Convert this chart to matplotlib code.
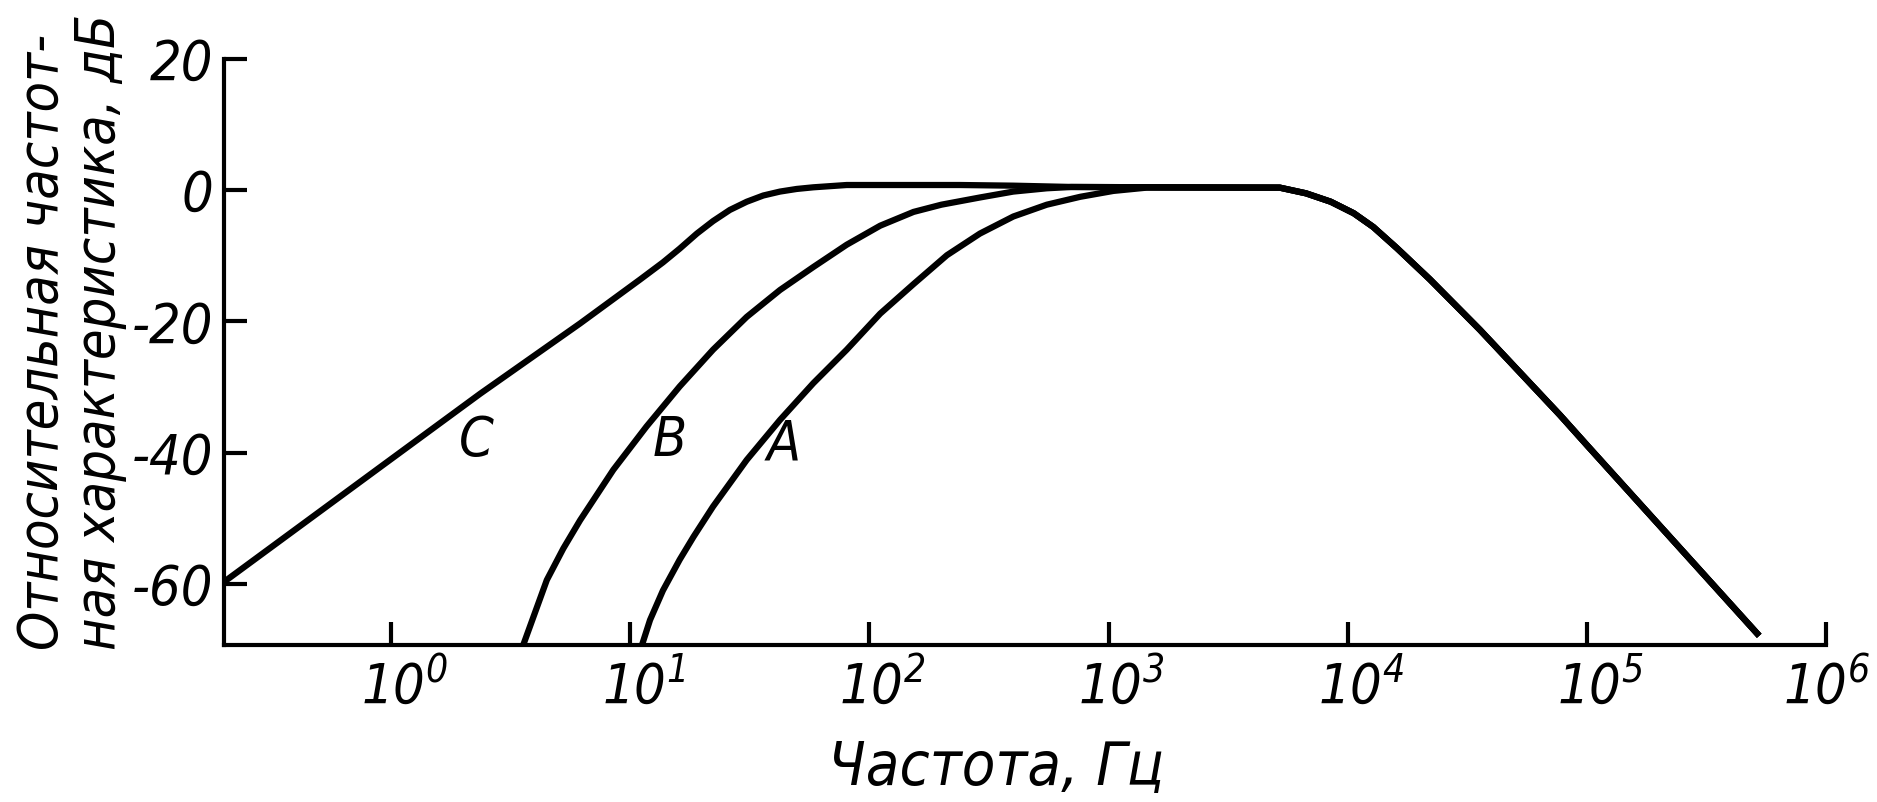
import matplotlib
matplotlib.use("Agg")
import matplotlib.pyplot as plt
import matplotlib.transforms as mtransforms
from matplotlib.ticker import NullLocator

# values (frequency in Hz, level in dB)
c_freq = [0.2, 0.9, 2.36, 6.17, 11.0, 13.7, 16.1, 19.0, 22.2, 26.1, 30.7, 36.0, 42.3, 49.7, 58.3, 80.4, 134, 239, 400, 700]
c_db = [-59.7, -42.2, -31.0, -20.3, -13.6, -11.0, -8.9, -6.6, -4.7, -3.0, -1.75, -0.8, -0.2, 0.2, 0.45, 0.8, 0.8, 0.8, 0.7, 0.5]

b_freq = [3.57, 3.94, 4.48, 5.25, 6.17, 8.5, 11.7, 16.1, 22.2, 30.7, 42.3, 58.3, 80.4, 111, 153, 200, 290, 400, 552, 700]
b_db = [-69.3, -65.0, -59.4, -54.6, -50.3, -42.6, -36.0, -29.9, -24.3, -19.3, -15.2, -11.7, -8.3, -5.4, -3.3, -2.2, -1.1, -0.2, 0.3, 0.5]

a_freq = [11.2, 12.1, 13.7, 16.1, 18.4, 22.2, 30.7, 42.3, 58.3, 80.4, 111, 153, 211, 290, 400, 552, 761, 1048, 1445]
a_db = [-69.3, -65.5, -61.0, -56.3, -52.8, -48.2, -41.1, -35.0, -29.4, -24.3, -18.8, -14.3, -9.9, -6.6, -4.0, -2.2, -1.0, -0.1, 0.4]

# high-frequency roll-off shared by all three curves
hf_freq = [5200, 6700, 8500, 10600, 12800, 16100, 22100, 35800, 77400, 101000, 526000]
hf_db = [0.4, -0.47, -1.75, -3.5, -5.6, -8.85, -13.6, -21.3, -34.3, -39.0, -67.9]

curve_names = ["C", "B", "A"]
label_freq = [2.28, 14.7, 43.7]
label_db = [-38.1, -38.1, -38.6]

xticks = [1, 10, 100, 1e3, 1e4, 1e5, 1e6]
xtick_labels = [r"$10^{0}$", r"$10^{1}$", r"$10^{2}$", r"$10^{3}$", r"$10^{4}$", r"$10^{5}$", r"$10^{6}$"]
yticks = [20, 0, -20, -40, -60]

FONT = dict(family="DejaVu Sans", style="italic", stretch="condensed")
plt.rcParams["mathtext.fontset"] = "custom"
plt.rcParams["mathtext.rm"] = "DejaVu Sans:style=italic:stretch=condensed"
plt.rcParams["mathtext.it"] = "DejaVu Sans:style=italic:stretch=condensed"
FS = 40

fig = plt.figure(figsize=(18.77, 8.02), dpi=100)
ax = fig.add_axes([0.1193, 0.1958, 0.8535, 0.7306])

curves = [(c_freq, c_db), (b_freq, b_db), (a_freq, a_db)]
for freq, db in curves:
    ax.plot(list(freq) + hf_freq, list(db) + hf_db, color="black", lw=4.5,
            solid_capstyle="butt", solid_joinstyle="round")

for name, fx, fy in zip(curve_names, label_freq, label_db):
    ax.text(fx, fy, name, ha="center", va="center", fontsize=FS, **FONT)

ax.set_xscale("log")
ax.set_xlim(0.2, 1e6)
ax.set_ylim(-69.3, 20)
ax.set_xticks(xticks)
ax.set_xticklabels(xtick_labels)
ax.xaxis.set_minor_locator(NullLocator())
ax.set_yticks(yticks)
ax.set_yticklabels([str(v) for v in yticks])

for side in ["top", "right"]:
    ax.spines[side].set_visible(False)
for side in ["left", "bottom"]:
    ax.spines[side].set_linewidth(3.0)

ax.tick_params(axis="both", direction="in", length=16.5, width=3.0, labelsize=FS)
ax.tick_params(axis="x", pad=10)
ax.tick_params(axis="y", pad=8)
for lab in ax.get_yticklabels():
    lab.set_fontstyle("italic")
    lab.set_fontstretch("condensed")

# the "10" sits on the tick, the exponent hangs to the right
shift = mtransforms.ScaledTranslation(0.13, 0, fig.dpi_scale_trans)
for lab in ax.get_xticklabels()[:-1]:
    lab.set_transform(lab.get_transform() + shift)

fig.text(996 / 1877, 1 - 785 / 802, "Частота, Гц", ha="center", va="baseline",
         fontsize=44, **FONT)
fig.text(71 / 1877, 1 - 332 / 802, "Относительная частот-\nная характеристика, дБ",
         rotation=90, ha="center", va="center", multialignment="left",
         linespacing=1.1, fontsize=FS, **FONT)

fig.savefig("out.png", dpi=100, facecolor="white")
